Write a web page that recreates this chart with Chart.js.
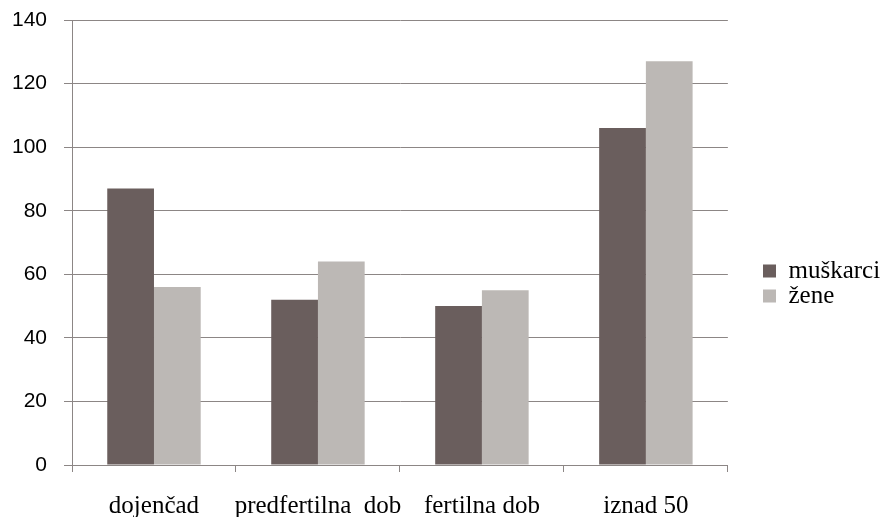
<!DOCTYPE html>
<html><head><meta charset="utf-8">
<script src="https://cdn.jsdelivr.net/npm/chart.js@4/dist/chart.umd.min.js"></script>
<style>html,body{margin:0;padding:0;background:#fff;}#wrap{width:881px;height:517px;}</style>
</head><body><div id="wrap"><canvas id="c" width="881" height="517"></canvas></div>
<script>
const categories = ["dojenčad", "predfertilna  dob", "fertilna dob", "iznad 50"];
const muskarci = [87, 52, 50, 106];
const zene = [56, 64, 55, 127];
const seriesNames = ["muškarci", "žene"];
const yTicks = [0, 20, 40, 60, 80, 100, 120, 140];

const gridCol = "#8c8685";
const legendPlace = {
  id: "legendPlace",
  afterLayout(chart) {
    const lg = chart.legend;
    if (!lg) return;
    const w = lg.right - lg.left;
    lg.left = 763; lg.right = lg.left + w;
    lg.top = 258.5; lg.bottom = lg.top + 60;
  }
};
new Chart(document.getElementById("c"), {
  type: "bar",
  data: {
    labels: categories,
    datasets: [
      {label: seriesNames[0], data: muskarci, backgroundColor: "#6a5e5d", categoryPercentage: 0.57, barPercentage: 1},
      {label: seriesNames[1], data: zene, backgroundColor: "#bcb8b5", categoryPercentage: 0.57, barPercentage: 1}
    ]
  },
  plugins: [legendPlace],
  options: {
    responsive: false,
    animation: false,
    devicePixelRatio: 1,
    layout: {padding: {left: 0, right: 26, top: 20, bottom: 0}},
    plugins: {
      tooltip: {enabled: false},
      legend: {
        position: "right",
        align: "start",
        labels: {
          font: {family: "Liberation Serif", size: 25},
          color: "#000",
          boxWidth: 13, boxHeight: 13, padding: 0
        }
      }
    },
    scales: {
      x: {
        afterFit: (s) => { s.height = 52; s.paddingLeft = 0; s.paddingRight = 0; },
        grid: {display: true, drawOnChartArea: false, offset: true, color: gridCol, tickLength: 7, lineWidth: 1},
        border: {color: gridCol, width: 1},
        ticks: {font: {family: "Liberation Serif", size: 25}, color: "#000", padding: 19, maxRotation: 0, autoSkip: false}
      },
      y: {
        min: 0, max: 140,
        afterFit: (s) => { s.width = 72; s.paddingTop = 0; s.paddingBottom = 0; },
        afterBuildTicks: (s) => { s.ticks = yTicks.map(v => ({value: v})); },
        grid: {color: gridCol, tickLength: 8, lineWidth: 1},
        border: {color: gridCol, width: 1},
        ticks: {font: {family: "Liberation Sans", size: 21}, color: "#000", padding: 17}
      }
    }
  }
});
</script></body></html>
